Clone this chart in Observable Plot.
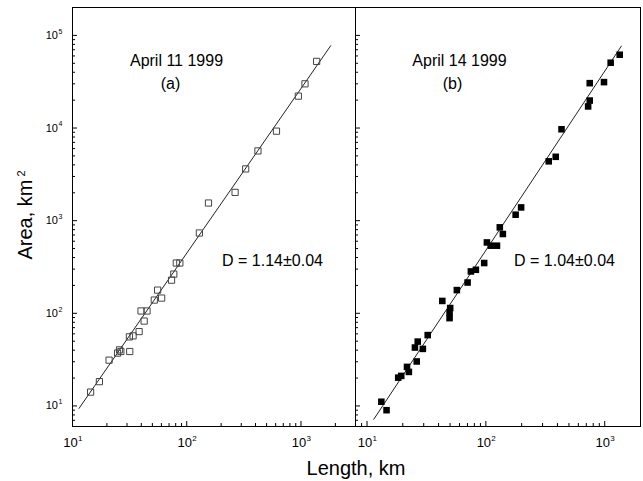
<!DOCTYPE html>
<html><head><meta charset="utf-8">
<script src="https://cdn.jsdelivr.net/npm/d3@7"></script>
<script src="https://cdn.jsdelivr.net/npm/@observablehq/plot@0.6"></script>
<style>
body{margin:0;background:#fff;}
#wrap{position:relative;width:643px;height:481px;font-family:"Liberation Sans",Arial,sans-serif;overflow:hidden;}
#wrap svg{position:absolute;top:0;}
.t{position:absolute;font-size:20px;color:#000;white-space:nowrap;text-align:center;line-height:24px;width:200px;height:24px;}
.t sup{font-size:11px;vertical-align:top;position:relative;top:-4px;margin-left:3px;}
</style></head><body><div id="wrap"></div>
<script>
// Panel (a): April 11 1999, open squares
const aLength = [1371,1084,948,610,420,328,265,155,129,81,87,77,73.6,55.6,60.3,52,39.8,44.9,42.4,38.3,33.9,31.5,31.7,25.8,24.8,26.5,20.9,17.2,14.4];
const aArea   = [52400,30000,22100,9250,5660,3620,2020,1550,736,349,349,265,228,178,146,139,106,106,82.4,63.5,57.1,55.7,38.7,40.3,37.2,38.7,31.2,18.3,14.1];
const aFitLength = [11.4, 1820];
const aFitArea   = [9.4, 77400];
// Panel (b): April 14 1999, filled squares
const bLength = [1337,1122,748,986,748,725,433,387,338,198,178,131,139,102,110,124,96.8,82.4,74.8,70.2,57,43,50.1,49.5,49.5,32.4,26.7,25.3,29.5,26.2,21.7,22.5,18.3,19.4,13.2,14.6];
const bArea   = [61800,50700,30500,31300,19800,17100,9700,4890,4370,1390,1160,847,718,582,537,537,349,295,283,215,178,136,114,102,88.7,58.2,49.5,42.7,41.3,30.2,26.4,23.3,20.2,21.1,11.1,9.0];
const bFitLength = [11.4, 1380];
const bFitArea   = [7.18, 76600];
// Ticks
const xMajorTicks = [10, 100, 1000];
const yMajorTicks = [10, 100, 1000, 10000, 100000];
const aXMinor = [20,30,40,50,60,70,80,90,200,300,400,500,600,700,800,900,2000];
const bXMinor = [9,20,30,40,50,60,70,80,90,200,300,400,500,600,700,800,900];
const yMinor = [6,7,8,9,20,30,40,50,60,70,80,90,200,300,400,500,600,700,800,900,
  2000,3000,4000,5000,6000,7000,8000,9000,20000,30000,40000,50000,60000,70000,80000,90000];
const titlesA = ["April 11 1999", "(a)", "D = 1.14\u00b10.04"];
const titlesB = ["April 14 1999", "(b)", "D = 1.04\u00b10.04"];

const toRows = (L, A) => L.map((v, i) => ({L: v, A: A[i]}));
const H = 481, MT = 7, MB = 55;
const innerH = H - MT - MB;
const font = '"Liberation Sans", Arial, sans-serif';

function panel({width, mL, mR, xDomain, pts, fit, filled, xMinor, yLabels, titles, tpos}) {
  const innerW = width - mL - mR;
  const marks = [
    Plot.frame({stroke: "black"}),
    Plot.tickX(xMajorTicks, {x: d => d, insetTop: innerH - 5, stroke: "black"}),
    Plot.tickX(xMinor, {x: d => d, insetTop: innerH - 3, stroke: "black"}),
    Plot.tickY(yMajorTicks, {y: d => d, insetRight: innerW - 5, stroke: "black"}),
    Plot.tickY(yMinor, {y: d => d, insetRight: innerW - 3, stroke: "black"}),
    Plot.line(fit, {x: "L", y: "A", stroke: "#222", strokeWidth: 1}),
    Plot.dot(pts, filled
      ? {x: "L", y: "A", symbol: "square", r: 3.7, fill: "black", stroke: "none"}
      : {x: "L", y: "A", symbol: "square", r: 3.5, fill: "none", stroke: "#444", strokeWidth: 1}),
    Plot.text(xMajorTicks, {x: d => d, text: () => "10", frameAnchor: "bottom", lineAnchor: "top", dy: 11, dx: -2, fontSize: 13}),
    Plot.text(xMajorTicks, {x: d => d, text: d => String(Math.round(Math.log10(d))), frameAnchor: "bottom", lineAnchor: "top", textAnchor: "start", dy: 9, dx: 5.5, fontSize: 8}),
    Plot.text([titles[0]], {text: d => d, frameAnchor: "top-left", textAnchor: "middle", lineAnchor: "top", dx: tpos[0], dy: 47, fontSize: 16}),
    Plot.text([titles[1]], {text: d => d, frameAnchor: "top-left", textAnchor: "middle", lineAnchor: "top", dx: tpos[1], dy: 70, fontSize: 16}),
    Plot.text([titles[2]], {text: d => d, frameAnchor: "top-left", textAnchor: "middle", lineAnchor: "top", dx: tpos[2], dy: 247, fontSize: 16})
  ];
  if (yLabels) {
    marks.push(
      Plot.text(yMajorTicks, {y: d => d, text: () => "10", frameAnchor: "left", textAnchor: "end", dx: -14.5, fontSize: 11}),
      Plot.text(yMajorTicks, {y: d => d, text: d => String(Math.round(Math.log10(d))), frameAnchor: "left", textAnchor: "start", dx: -14, dy: -4, fontSize: 7})
    );
  }
  return Plot.plot({
    width, height: H,
    marginLeft: mL, marginRight: mR, marginTop: MT, marginBottom: MB,
    style: {fontFamily: font, background: "transparent", overflow: "visible", color: "black"},
    x: {type: "log", domain: xDomain, axis: null},
    y: {type: "log", domain: [6, 200000], axis: null},
    marks
  });
}

const wrap = document.getElementById("wrap");
const pA = panel({width: 356, mL: 72, mR: 1, xDomain: [10, 3000], pts: toRows(aLength, aArea), fit: toRows(aFitLength, aFitArea),
  filled: false, xMinor: aXMinor, yLabels: true, titles: titlesA, tpos: [104, 98, 200]});
pA.style.left = "0px";
const pB = panel({width: 288, mL: 0, mR: 3, xDomain: [8, 2000], pts: toRows(bLength, bArea), fit: toRows(bFitLength, bFitArea),
  filled: true, xMinor: bXMinor, yLabels: false, titles: titlesB, tpos: [104, 97, 209]});
pB.style.left = "355px";
wrap.appendChild(pA);
wrap.appendChild(pB);

const xt = document.createElement("div");
xt.className = "t";
xt.textContent = "Length, km";
xt.style.left = "256px"; xt.style.top = "456px";
wrap.appendChild(xt);

const yt = document.createElement("div");
yt.className = "t";
yt.innerHTML = "Area, km<sup>2</sup>";
yt.style.left = "-75px"; yt.style.top = "203px";
yt.style.transform = "rotate(-90deg)";
wrap.appendChild(yt);
</script>
</body></html>
